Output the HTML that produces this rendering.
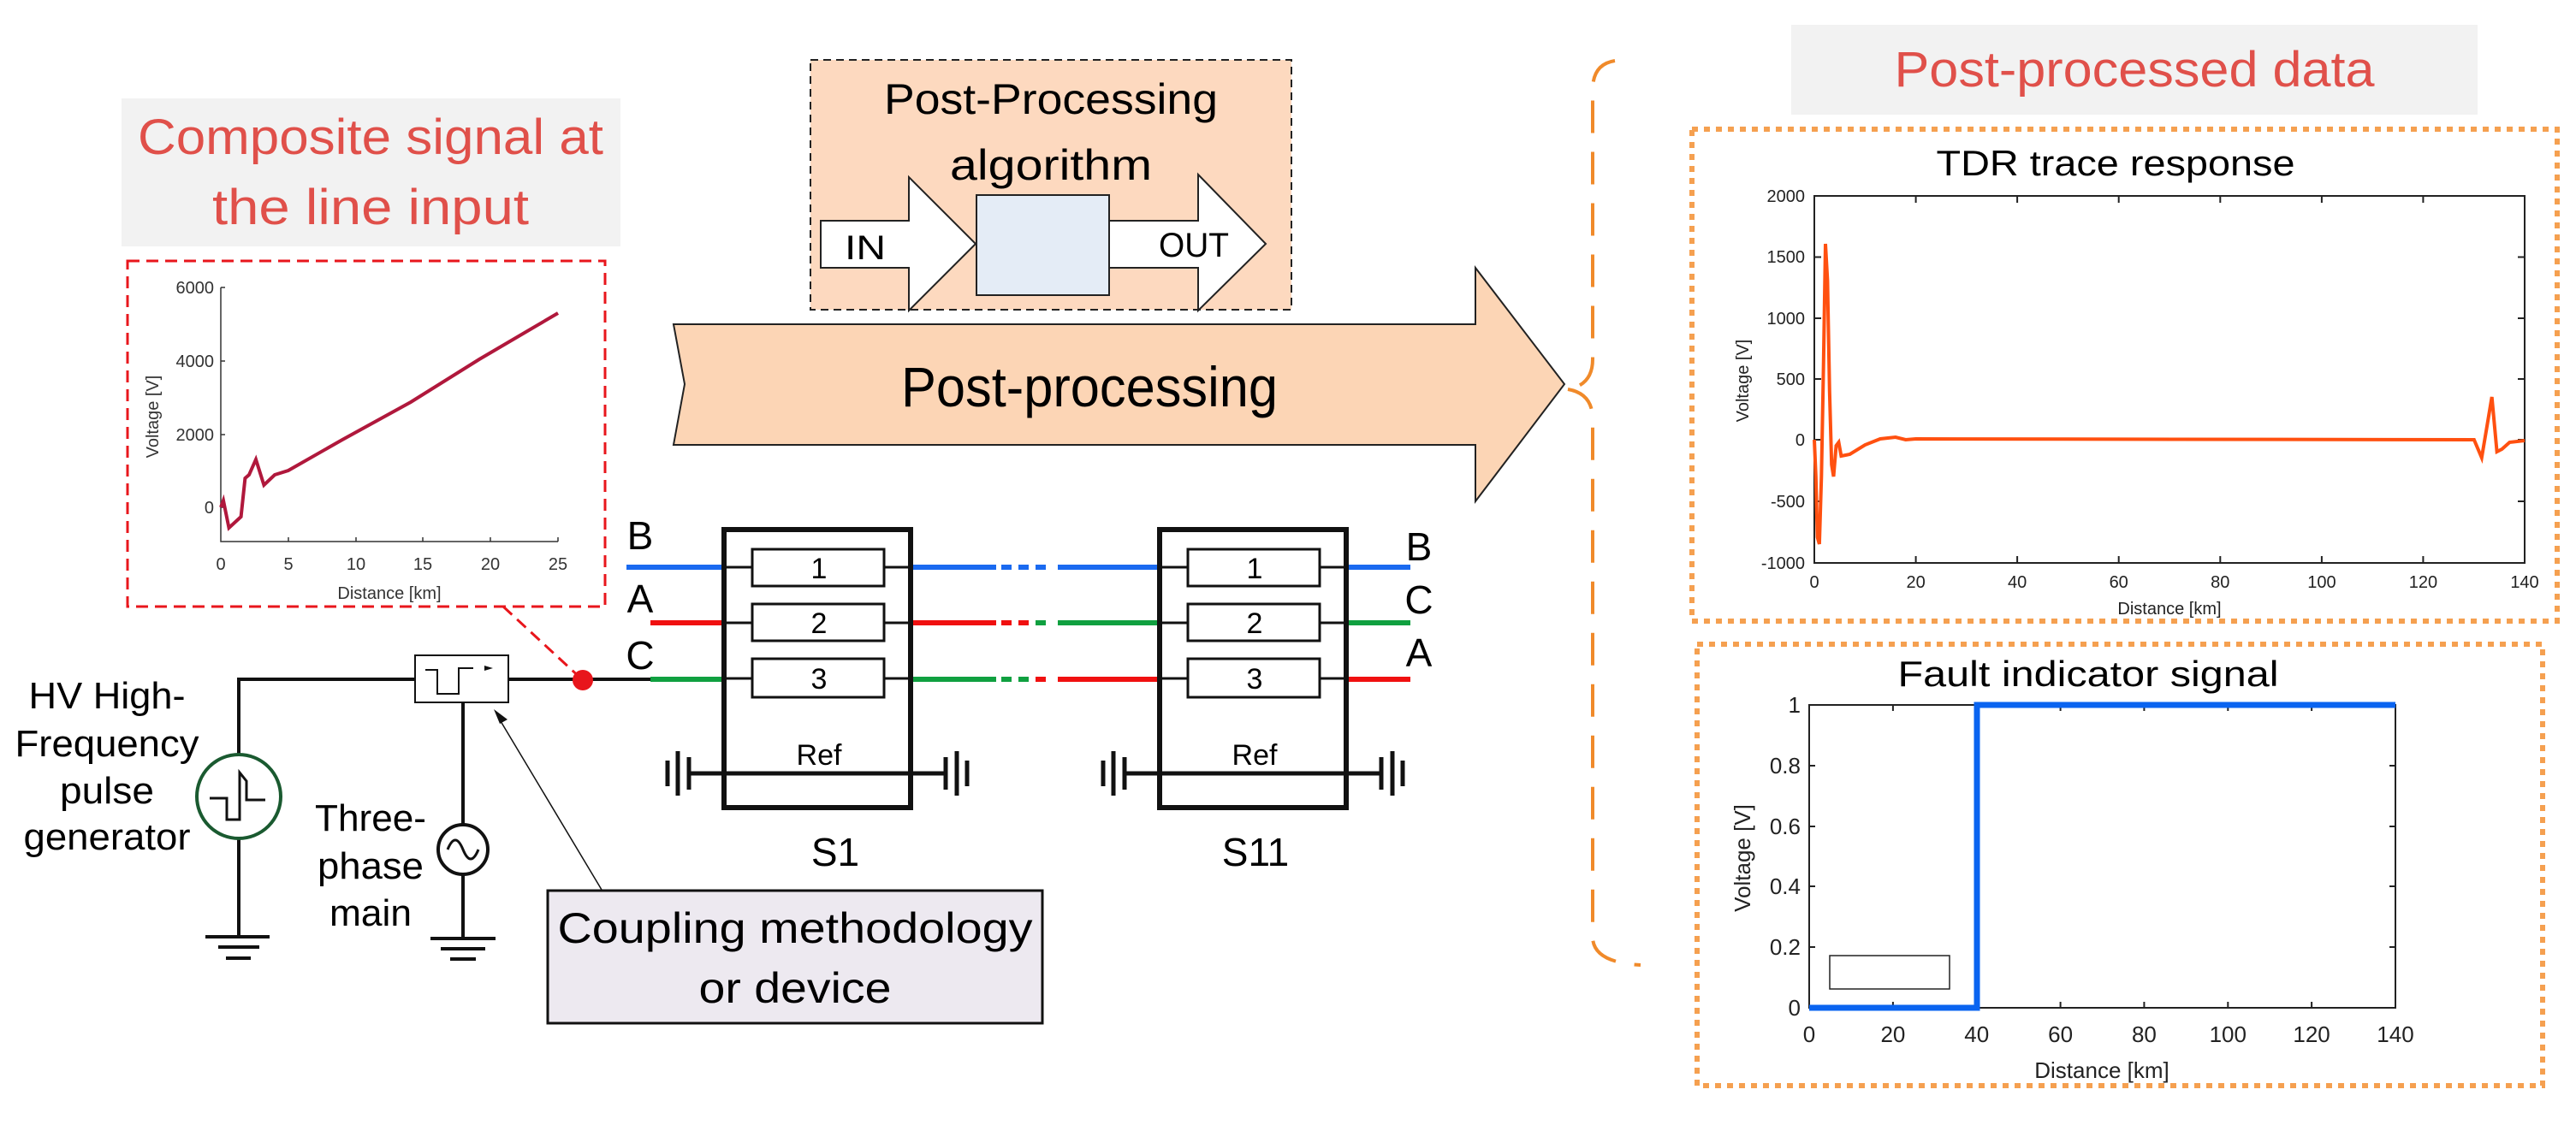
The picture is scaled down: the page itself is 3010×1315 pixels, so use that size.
<!DOCTYPE html>
<html><head><meta charset="utf-8"><style>html,body{margin:0;padding:0;background:#fff}svg{display:block}</style></head><body>
<svg width="3010" height="1315" viewBox="0 0 3010 1315" xmlns="http://www.w3.org/2000/svg" font-family="Liberation Sans, sans-serif">
<!-- Left title -->
<rect x="142" y="115" width="583" height="173" fill="#f2f2f2"/>
<text x="433" y="180" font-size="58" fill="#e0504a" text-anchor="middle" textLength="544" lengthAdjust="spacingAndGlyphs">Composite signal at</text>
<text x="433" y="262" font-size="58" fill="#e0504a" text-anchor="middle" textLength="370" lengthAdjust="spacingAndGlyphs">the line input</text>
<!-- composite plot -->
<rect x="149" y="305" width="558" height="404" fill="#fff" stroke="#e8161c" stroke-width="3" stroke-dasharray="14,8"/>
<g stroke="#333" stroke-width="1.5" fill="none"><path d="M258 336 V633 H652"/>
<path d="M258 336 h5 M258 422 h5 M258 508 h5 M258 593 h5 M337 633 v-5 M416 633 v-5 M494 633 v-5 M573 633 v-5 M652 633 v-5"/></g>
<g font-size="20" fill="#333" text-anchor="end"><text x="250" y="343">6000</text><text x="250" y="429">4000</text><text x="250" y="515">2000</text><text x="250" y="600">0</text></g>
<g font-size="20" fill="#333" text-anchor="middle"><text x="258" y="666">0</text><text x="337" y="666">5</text><text x="416" y="666">10</text><text x="494" y="666">15</text><text x="573" y="666">20</text><text x="652" y="666">25</text>
<text x="455" y="700">Distance [km]</text>
<text transform="translate(185,487) rotate(-90)">Voltage [V]</text></g>
<polyline fill="none" stroke="#b0183c" stroke-width="4" points="258,593 261,585 267.5,617 281.6,604 286.4,559 291,555 299,537 308.4,567 321,555 336.8,550 400,514 480,470 560,420 652,366"/>
<line x1="588" y1="709" x2="681" y2="795" stroke="#e8161c" stroke-width="3" stroke-dasharray="14,8"/>
<!-- Post-processing box -->
<rect x="947" y="70" width="562" height="292" fill="#fdd9bf" stroke="#222" stroke-width="2" stroke-dasharray="9,6"/>
<text x="1228" y="133" font-size="50" text-anchor="middle" textLength="390" lengthAdjust="spacingAndGlyphs">Post-Processing</text>
<text x="1228" y="210" font-size="50" text-anchor="middle" textLength="236" lengthAdjust="spacingAndGlyphs">algorithm</text>
<polygon points="959,258 1062,258 1062,207 1140,285 1062,363 1062,313 959,313" fill="#fff" stroke="#222" stroke-width="2"/>
<polygon points="1296,258 1400,258 1400,204 1479,285 1400,363 1400,313 1296,313" fill="#fff" stroke="#222" stroke-width="2"/>
<rect x="1141" y="228" width="155" height="117" fill="#e4ecf6" stroke="#222" stroke-width="2"/>
<text x="987" y="303" font-size="40" textLength="48" lengthAdjust="spacingAndGlyphs">IN</text>
<text x="1354" y="300" font-size="40" textLength="82" lengthAdjust="spacingAndGlyphs">OUT</text>
<!-- big arrow -->
<polygon points="787,379 1724,379 1724,313 1828,449 1724,586 1724,520 787,520 800,449" fill="#fcd5b5" stroke="#222" stroke-width="2"/>
<text x="1273" y="475" font-size="66" text-anchor="middle" textLength="440" lengthAdjust="spacingAndGlyphs">Post-processing</text>
<!-- brace -->
<path d="M1887 71 Q1861 75 1861 105 V420 Q1861 450 1832 455 M1832 455 Q1861 460 1861 490 V1095 Q1861 1125 1917 1128" fill="none" stroke="#f08a2a" stroke-width="4" stroke-dasharray="38,22"/>
<!-- right title -->
<rect x="2093" y="29" width="802" height="105" fill="#f2f2f2"/>
<text x="2494" y="101" font-size="58" fill="#e0504a" text-anchor="middle" textLength="561" lengthAdjust="spacingAndGlyphs">Post-processed data</text>
<!-- TDR -->
<rect x="1977" y="151" width="1011" height="575" fill="#fff" stroke="#f5a050" stroke-width="6" stroke-dasharray="7,7"/>
<text x="2472" y="205" font-size="42" text-anchor="middle" textLength="419" lengthAdjust="spacingAndGlyphs">TDR trace response</text>
<g stroke="#222" stroke-width="2" fill="none"><rect x="2120" y="229" width="830" height="429"/>
<path d="M2238.6 658v-8M2357.1 658v-8M2475.7 658v-8M2594.3 658v-8M2712.9 658v-8M2831.4 658v-8 M2238.6 229v8M2357.1 229v8M2475.7 229v8M2594.3 229v8M2712.9 229v8M2831.4 229v8 M2120 300.5h8M2120 372h8M2120 443h8M2120 514h8M2120 586h8 M2950 300.5h-8M2950 372h-8M2950 443h-8M2950 514h-8M2950 586h-8"/></g>
<g font-size="20" text-anchor="end" fill="#222"><text x="2109" y="236">2000</text><text x="2109" y="307">1500</text><text x="2109" y="379">1000</text><text x="2109" y="450">500</text><text x="2109" y="521">0</text><text x="2109" y="593">-500</text><text x="2109" y="665">-1000</text></g>
<g font-size="20" text-anchor="middle" fill="#222"><text x="2120" y="687">0</text><text x="2238.6" y="687">20</text><text x="2357.1" y="687">40</text><text x="2475.7" y="687">60</text><text x="2594.3" y="687">80</text><text x="2712.9" y="687">100</text><text x="2831.4" y="687">120</text><text x="2950" y="687">140</text>
<text x="2535" y="718">Distance [km]</text><text transform="translate(2043,445) rotate(-90)">Voltage [V]</text></g>
<polyline fill="none" stroke="#ff5010" stroke-width="4" points="2120,514 2121.8,557 2123.6,628 2125.9,636 2128.3,557 2130.7,428 2133,285 2135.4,328 2137.8,457 2140.2,543 2142.5,557 2145.5,521 2148.5,517 2151.4,533 2161.5,531 2179.3,520 2197,513 2214.9,511 2226.7,514 2238.6,513 2890.9,514 2899.8,535 2905.7,500 2911.7,464 2917.6,528 2923.5,525 2932.4,517 2950,515"/>
<!-- Fault -->
<rect x="1983" y="753" width="988" height="516" fill="#fff" stroke="#f5a050" stroke-width="6" stroke-dasharray="7,7"/>
<text x="2440" y="802" font-size="42" text-anchor="middle" textLength="445" lengthAdjust="spacingAndGlyphs">Fault indicator signal</text>
<g stroke="#222" stroke-width="2" fill="none"><rect x="2114" y="824" width="685" height="354"/>
<path d="M2211.9 1178v-7M2309.7 1178v-7M2407.6 1178v-7M2505.4 1178v-7M2603.3 1178v-7M2701.1 1178v-7 M2211.9 824v7M2407.6 824v7M2505.4 824v7M2603.3 824v7M2701.1 824v7 M2114 895h7M2114 966h7M2114 1036h7M2114 1107h7 M2799 895h-7M2799 966h-7M2799 1036h-7M2799 1107h-7"/>
<rect x="2138" y="1117" width="140" height="39" stroke-width="1.5"/></g>
<polyline fill="none" stroke="#0a64f0" stroke-width="7" points="2114,1178 2310,1178 2310,824 2799,824"/>
<g font-size="26" text-anchor="end" fill="#222"><text x="2104" y="833">1</text><text x="2104" y="904">0.8</text><text x="2104" y="975">0.6</text><text x="2104" y="1045">0.4</text><text x="2104" y="1116">0.2</text><text x="2104" y="1187">0</text></g>
<g font-size="26" text-anchor="middle" fill="#222"><text x="2114" y="1218">0</text><text x="2211.9" y="1218">20</text><text x="2309.7" y="1218">40</text><text x="2407.6" y="1218">60</text><text x="2505.4" y="1218">80</text><text x="2603.3" y="1218">100</text><text x="2701.1" y="1218">120</text><text x="2799" y="1218">140</text>
<text x="2456" y="1260">Distance [km]</text><text transform="translate(2045,1003) rotate(-90)">Voltage [V]</text></g>
<!-- circuit -->
<g stroke="#111" stroke-width="4" fill="none">
<path d="M279 1095 V981 M279 881 V794 H485 M594 794 H760"/>
<path d="M240 1095 h75 M255 1107 h48 M264 1120 h29"/>
<path d="M541 821 V964 M541 1022 V1097 M503 1097 h76 M515 1109 h52 M526 1121 h30"/>
</g>
<circle cx="279" cy="931" r="49" fill="#fff" stroke="#1a5a30" stroke-width="4"/>
<path d="M245 933 h20 v25 h15 v-55 l8 10 v22 h22" fill="none" stroke="#111" stroke-width="3"/>
<circle cx="541" cy="993" r="29" fill="#fff" stroke="#111" stroke-width="4"/>
<path d="M523 993 q9 -22 18 0 t18 0" fill="none" stroke="#111" stroke-width="3"/>
<rect x="485" y="766" width="109" height="55" fill="#fff" stroke="#111" stroke-width="2"/>
<path d="M497 783 h14 v28 h25 v-30 h17" fill="none" stroke="#111" stroke-width="2"/>
<path d="M566 778 l10 3 l-10 3 z" fill="#111"/>
<circle cx="681" cy="795" r="12" fill="#e8161c"/>
<line x1="703" y1="1040" x2="582" y2="838" stroke="#111" stroke-width="1.5"/>
<polygon points="577,829 593,841 584,846" fill="#111"/>
<rect x="640" y="1041" width="578" height="155" fill="#ede9f0" stroke="#111" stroke-width="3"/>
<text x="929" y="1102" font-size="50" text-anchor="middle" textLength="555" lengthAdjust="spacingAndGlyphs">Coupling methodology</text>
<text x="929" y="1172" font-size="50" text-anchor="middle" textLength="225" lengthAdjust="spacingAndGlyphs">or device</text>
<g font-size="44" text-anchor="middle"><text x="125" y="828" textLength="183" lengthAdjust="spacingAndGlyphs">HV High-</text><text x="125" y="884" textLength="215" lengthAdjust="spacingAndGlyphs">Frequency</text><text x="125" y="939" textLength="110" lengthAdjust="spacingAndGlyphs">pulse</text><text x="125" y="993" textLength="195" lengthAdjust="spacingAndGlyphs">generator</text>
<text x="433" y="971" textLength="130" lengthAdjust="spacingAndGlyphs">Three-</text><text x="433" y="1027" textLength="124" lengthAdjust="spacingAndGlyphs">phase</text><text x="433" y="1082" textLength="96" lengthAdjust="spacingAndGlyphs">main</text></g>
<!-- wires -->
<g stroke-width="6">
<path d="M732 663 H846 M1064 663 H1164 M1236 663 H1355 M1571 663 H1648" stroke="#1a6af0"/>
<path d="M1170 663 h12 M1190 663 h12 M1210 663 h12" stroke="#1a6af0"/>
<path d="M760 728 H846 M1064 728 H1164 M1170 728 h12 M1190 728 h12" stroke="#f01010"/>
<path d="M1210 728 h12 M1236 728 H1355 M1571 728 H1648" stroke="#10a040"/>
<path d="M760 794 H846 M1064 794 H1164 M1170 794 h12 M1190 794 h12" stroke="#10a040"/>
<path d="M1210 794 h12 M1236 794 H1355 M1571 794 H1648" stroke="#f01010"/>
</g>
<g font-size="46" text-anchor="middle"><text x="748" y="642">B</text><text x="748" y="716">A</text><text x="748" y="782">C</text>
<text x="1658" y="655">B</text><text x="1658" y="717">C</text><text x="1658" y="779">A</text></g>
<!-- S1 / S11 -->
<g id="s" stroke="#111" fill="none">
<rect x="846" y="619" width="218" height="325" stroke-width="6"/>
<rect x="879" y="642" width="154" height="43" stroke-width="3"/><rect x="879" y="706" width="154" height="43" stroke-width="3"/><rect x="879" y="770" width="154" height="45" stroke-width="3"/>
<path d="M846 663h33M1033 663h31M846 728h33M1033 728h31M846 793h33M1033 793h31" stroke-width="3"/>
<path d="M806 904 H1103" stroke-width="5"/>
<path d="M805 885v38M792 878v52M780 889v30M1105 885v38M1118 878v52M1130 889v30" stroke-width="5"/>
</g>
<use href="#s" x="509"/>
<g font-size="34" text-anchor="middle"><text x="957" y="676">1</text><text x="957" y="740">2</text><text x="957" y="805">3</text><text x="957" y="894">Ref</text>
<text x="1466" y="676">1</text><text x="1466" y="740">2</text><text x="1466" y="805">3</text><text x="1466" y="894">Ref</text></g>
<g font-size="46" text-anchor="middle"><text x="976" y="1012">S1</text><text x="1467" y="1012">S11</text></g>
</svg>
</body></html>
